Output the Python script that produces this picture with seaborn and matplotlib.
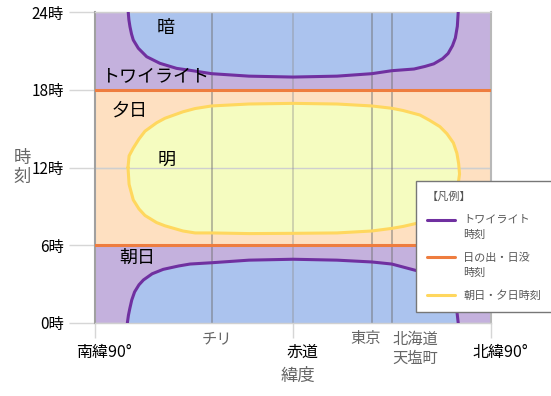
import matplotlib.pyplot as plt
import pandas as pd
import seaborn as sns
from matplotlib.legend_handler import HandlerLine2D
from matplotlib.lines import Line2D
from matplotlib.transforms import ScaledTranslation

# 緯度 (南緯はマイナス) と時刻 [時] -- 図から読み取った値
dusk_lat = [-74.9, -74.6, -74.1, -73.4, -72.6, -70.3, -66.5, -60.5, -52.9, -46.8, -37.0, -20.0, 0.0,
            20.0, 35.8, 44.9, 55.0, 60.0, 64.0, 68.0, 70.5, 72.5, 73.8, 74.7, 75.1]
dusk_hour = [24.0, 23.4, 22.86, 22.3, 21.84, 21.2, 20.55, 20.04, 19.65, 19.5, 19.24, 19.05, 18.98,
             19.05, 19.24, 19.47, 19.6, 19.8, 20.0, 20.4, 20.8, 21.4, 22.0, 22.9, 24.0]
dawn_lat = [-75.3, -74.8, -74.2, -73.3, -72.0, -70.0, -68.0, -64.0, -59.0, -52.0, -46.8, -37.0, -20.0,
            0.0, 20.0, 35.8, 44.9, 56.2, 62.0, 66.0, 69.5, 72.0, 73.5, 74.5, 75.1]
dawn_hour = [0.0, 0.6, 1.1, 1.77, 2.4, 2.95, 3.32, 3.8, 4.14, 4.4, 4.55, 4.65, 4.85,
             4.92, 4.85, 4.71, 4.55, 4.04, 3.75, 3.4, 2.95, 2.3, 1.6, 0.9, 0.0]
golden_lat = [-75.0, -74.5, -72.6, -70.0, -67.3, -62.0, -58.2, -50.0, -44.5, -37.0, -20.0, 0.0,
              20.0, 35.8, 44.9, 50.0, 57.7, 62.0, 66.8, 70.0, 72.9, 74.5, 75.3, 75.7]
golden_eve_hour = [12.0, 12.9, 13.5, 14.2, 14.8, 15.45, 15.8, 16.3, 16.55, 16.75, 16.9, 16.95,
                   16.9, 16.75, 16.57, 16.4, 16.05, 15.65, 15.15, 14.6, 13.9, 13.1, 12.3, 11.5]
golden_morn_hour = [12.0, 10.7, 9.5, 8.8, 8.3, 7.75, 7.5, 7.1, 6.95, 6.95, 6.9, 6.92,
                    6.95, 7.1, 7.3, 7.45, 7.75, 8.1, 8.6, 9.1, 9.8, 10.5, 11.0, 11.5]
sunrise_hour = 6
sunset_hour = 18

edge_lat = [-90, 0, 90]
edge_names = ['南緯90°', '赤道', '北緯90°']
place_lat = [-37.0, 35.7, 44.9]
place_names = ['チリ', '東京', '北海道\n天塩町']
hour_ticks = [0, 6, 12, 18, 24]
hour_labels = ['0時', '6時', '12時', '18時', '24時']
legend_labels = ['トワイライト\n時刻', '日の出・日没\n時刻', '朝日・夕日時刻']

purple_bg = '#c4b1dd'
blue_fill = '#abc3ee'
peach_fill = '#fee0c1'
yellow_fill = '#f5fcc0'
purple_line = '#7030a0'
orange_line = '#ee7d3f'
yellow_line = '#ffd75e'


class FirstLineHandler(HandlerLine2D):
    """凡例の線を2行ラベルの1行目の高さに置く"""

    def __init__(self, shift, **kw):
        super().__init__(**kw)
        self.shift = shift

    def create_artists(self, legend, orig_handle, xdescent, ydescent, width, height, fontsize, trans):
        return super().create_artists(legend, orig_handle, xdescent, ydescent - self.shift,
                                      width, height, fontsize, trans)


sns.set_theme(style='white')
plt.rcParams['font.family'] = ['Noto Sans CJK JP', 'DejaVu Sans']

fig = plt.figure(figsize=(5.51, 3.96), dpi=100)
ax = fig.add_axes([95 / 551, 73 / 396, 396 / 551, 311 / 396])

# 背景の帯
ax.axhspan(0, sunrise_hour, color=purple_bg, lw=0, zorder=0)
ax.axhspan(sunset_hour, 24, color=purple_bg, lw=0, zorder=0)
ax.axhspan(sunrise_hour, sunset_hour, color=peach_fill, lw=0, zorder=0)

# 暗い時間帯・明るい時間帯
ax.fill_between(dusk_lat, dusk_hour, 24, color=blue_fill, lw=0, zorder=1)
ax.fill_between(dawn_lat, 0, dawn_hour, color=blue_fill, lw=0, zorder=1)
ax.fill_between(golden_lat, golden_morn_hour, golden_eve_hour, color=yellow_fill, lw=0, zorder=1)

# 目安の線
ax.axhline(12, color='#cfcfcf', lw=1, zorder=2)
ax.axvline(0, color='#909090', lw=1.2, alpha=0.45, zorder=2)
for lat in place_lat:
    ax.axvline(lat, color='#707070', lw=1.2, alpha=0.55, zorder=2)

dusk = pd.DataFrame({'lat': dusk_lat, 'hour': dusk_hour})
dawn = pd.DataFrame({'lat': dawn_lat, 'hour': dawn_hour})
golden = pd.DataFrame({
    'lat': golden_lat + golden_lat[::-1],
    'hour': golden_eve_hour + golden_morn_hour[::-1],
})
sns.lineplot(data=dusk, x='lat', y='hour', ax=ax, color=purple_line, lw=2.2,
             sort=False, estimator=None, zorder=3)
sns.lineplot(data=dawn, x='lat', y='hour', ax=ax, color=purple_line, lw=2.2,
             sort=False, estimator=None, zorder=3)
sns.lineplot(data=golden, x='lat', y='hour', ax=ax, color=yellow_line, lw=2.2,
             sort=False, estimator=None, zorder=3)
ax.axhline(sunrise_hour, color=orange_line, lw=2.2, zorder=3)
ax.axhline(sunset_hour, color=orange_line, lw=2.2, zorder=3)

# 領域の名前
for label, lat, hour in [('暗', -57.7, 22.76), ('トワイライト', -62.7, 18.98), ('夕日', -74.1, 16.43),
                         ('明', -57.3, 12.58), ('朝日', -70.9, 5.02)]:
    ax.text(lat, hour, label, ha='center', va='center', fontsize=13, color='black', zorder=4)

ax.set_xlim(-90, 90)
ax.set_ylim(0, 24)

ax.set_yticks(hour_ticks, hour_labels)
ax.yaxis.grid(True, color='#d6d6d6', lw=1)
ax.set_axisbelow(True)
ax.tick_params(axis='y', which='major', left=True, length=19, width=1, color='#d6d6d6',
               pad=3.5, labelsize=11, labelcolor='black')

ax.set_xticks(edge_lat, edge_names)
ax.tick_params(axis='x', which='major', bottom=True, length=11, width=1, color='#d6d6d6',
               pad=4, labelsize=11.5, labelcolor='black')
shift_right = ScaledTranslation(9 / 100, 0, fig.dpi_scale_trans)
for tick in ax.xaxis.get_major_ticks():
    tick.label1.set_transform(tick.label1.get_transform() + shift_right)

# 地名は線の脇に置く
xtrans = ax.get_xaxis_transform()
for name, lat, ha in zip(place_names, [-34.7, 33.2, 45.3], ['center', 'center', 'left']):
    ax.text(lat, -0.024, name, transform=xtrans, ha=ha, va='top', fontsize=11,
            color='#666666', linespacing=1.15, clip_on=False)

ax.set_xlabel('緯度', fontsize=12.5, color='#666666')
ax.xaxis.set_label_coords(0.513, -0.17)
ax.xaxis.label.set_verticalalignment('center')
ax.set_ylabel('時\n刻', fontsize=12.5, color='#666666', rotation=0, linespacing=1.0)
ax.yaxis.set_label_coords(-0.184, 0.5)
ax.yaxis.label.set_verticalalignment('center')

for side in ['top', 'bottom']:
    ax.spines[side].set_color('#d0d0d0')
    ax.spines[side].set_linewidth(1)
ax.spines['left'].set_color('#a0a0a0')
ax.spines['left'].set_linewidth(1.5)
ax.spines['right'].set_color('#b8b8b8')
ax.spines['right'].set_linewidth(1.5)

handles = [Line2D([], [], color=purple_line, lw=2.2),
           Line2D([], [], color=orange_line, lw=2.2),
           Line2D([], [], color=yellow_line, lw=2.2)]
leg = fig.legend(handles, legend_labels, loc='upper left',
                 bbox_to_anchor=(416 / 551, 1 - 181 / 396), borderaxespad=0, title='【凡例】',
                 fontsize=8, title_fontsize=8, frameon=True, fancybox=False,
                 edgecolor='#777777', handlelength=2.6, handletextpad=0.7,
                 labelspacing=1.15, borderpad=0.95, alignment='left', framealpha=1,
                 handler_map={handles[0]: FirstLineHandler(11), handles[1]: FirstLineHandler(11)})
leg.get_frame().set_linewidth(1)
leg.get_title().set_color('#555555')
for t in leg.get_texts():
    t.set_color('#555555')
    t.set_linespacing(1.6)

fig.savefig('out.png', dpi=100)
